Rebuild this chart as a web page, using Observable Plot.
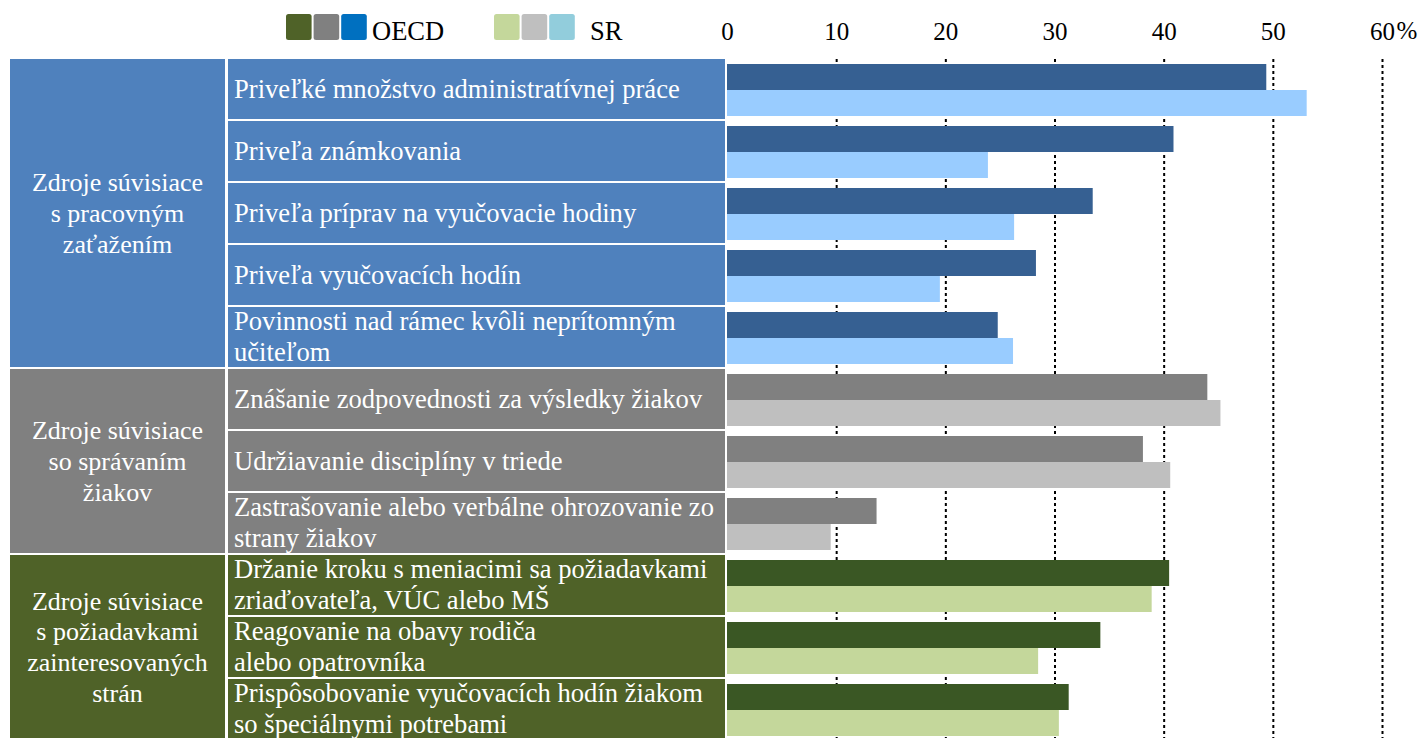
<!DOCTYPE html>
<html>
<head>
<meta charset="utf-8">
<script src="https://cdn.jsdelivr.net/npm/d3@7"></script>
<script src="https://cdn.jsdelivr.net/npm/@observablehq/plot@0.6"></script>
<style>
  html, body { margin: 0; padding: 0; background: #fff; overflow: hidden; }
  #chart { position: relative; width: 1424px; height: 738px; }
</style>
</head>
<body>
<div id="chart"></div>
<script>
// ---------- data ----------
const groups = [
  "Zdroje súvisiace\ns pracovným\nzaťažením",
  "Zdroje súvisiace\nso správaním\nžiakov",
  "Zdroje súvisiace\ns požiadavkami\nzainteresovaných\nstrán"
];
const items = [
  "Priveľké množstvo administratívnej práce",
  "Priveľa známkovania",
  "Priveľa príprav na vyučovacie hodiny",
  "Priveľa vyučovacích hodín",
  "Povinnosti nad rámec kvôli neprítomným\nučiteľom",
  "Znášanie zodpovednosti za výsledky žiakov",
  "Udržiavanie disciplíny v triede",
  "Zastrašovanie alebo verbálne ohrozovanie zo\nstrany žiakov",
  "Držanie kroku s meniacimi sa požiadavkami\nzriaďovateľa, VÚC alebo MŠ",
  "Reagovanie na obavy rodiča\nalebo opatrovníka",
  "Prispôsobovanie vyučovacích hodín žiakom\nso špeciálnymi potrebami"
];
const itemGroup = [0, 0, 0, 0, 0, 1, 1, 1, 2, 2, 2];
const oecd = [49.4, 40.9, 33.5, 28.3, 24.8, 44.0, 38.1, 13.7, 40.5, 34.2, 31.3];
const sr   = [53.1, 23.9, 26.3, 19.5, 26.2, 45.2, 40.6, 9.5, 38.9, 28.5, 30.4];
const xTicks = [0, 10, 20, 30, 40, 50, 60];
const seriesNames = ["OECD", "SR"];

// ---------- colours ----------
const groupColors = ["#4f81bd", "#808080", "#4f6228"];
const barColors = [["#366092", "#99ccff"], ["#808080", "#bfbfbf"], ["#3a5724", "#c4d79b"]];
const legendColors = [["#4f6228", "#808080", "#0070c0"], ["#c4d79b", "#bfbfbf", "#92cddc"]];

// ---------- table for Plot ----------
const rows = items.flatMap((it, i) => [
  {key: i + "|OECD", item: i, series: "OECD", value: oecd[i], group: itemGroup[i]},
  {key: i + "|SR", item: i, series: "SR", value: sr[i], group: itemGroup[i]}
]);
const keys = rows.map(d => d.key);

const FONT = "'Liberation Serif', 'Times New Roman', serif";

const plot = Plot.plot({
  width: 1424,
  height: 741,
  marginLeft: 727,
  marginRight: 42,
  marginTop: 59,
  marginBottom: 0,
  style: {fontFamily: FONT, fontSize: "25px", background: "white", color: "black", overflow: "visible"},
  x: {domain: [0, 60], axis: "top", ticks: xTicks, tickSize: 0, tickPadding: 20, label: null, tickFormat: d => String(d)},
  y: {domain: keys, padding: 0, axis: null},
  marks: [
    Plot.ruleX(xTicks.filter(d => d > 0), {stroke: "black", strokeWidth: 2, strokeDasharray: "3,3"}),
    Plot.barX(rows.filter(d => d.series === "OECD"), {x: "value", y: "key", fill: d => barColors[d.group][0], insetTop: 5}),
    Plot.barX(rows.filter(d => d.series === "SR"), {x: "value", y: "key", fill: d => barColors[d.group][1], insetBottom: 5}),
    Plot.text(["%"], {x: () => xTicks[xTicks.length - 1], frameAnchor: "top", textAnchor: "start", dx: 14, dy: -38, fontSize: 25, fill: "black"})
  ]
});

document.getElementById("chart").appendChild(plot);

// ---------- left table, placed with the plot's y scale ----------
const ys = plot.scale("y");
let yf, bw;
if (ys && typeof ys.apply === "function") {
  yf = k => ys.apply(k);
  bw = ys.bandwidth;
} else {
  const b = d3.scaleBand(ys.domain, ys.range).paddingInner(0).paddingOuter(0);
  yf = k => b(k); bw = b.bandwidth();
}
const rowTop = i => yf(i + "|OECD");
const rowBottom = i => yf(i + "|SR") + bw;

const svg = d3.select(plot);
const g = svg.append("g").attr("font-family", FONT).attr("font-size", 26).attr("text-anchor", "start");
const GAP = 2;
const groupX0 = 10, groupX1 = 225, itemX0 = 228, itemX1 = 725;
const LH = 30.8;

function multiline(sel, text, x, cy, anchor, size) {
  const lines = text.split("\n");
  const t = sel.append("text").attr("fill", "white").attr("text-anchor", anchor).attr("font-size", size);
  const first = cy - (lines.length - 1) * LH / 2 + 8.8;
  lines.forEach((ln, j) => t.append("tspan").attr("x", x).attr("y", first + j * LH).text(ln));
}

groups.forEach((grp, gi) => {
  const idx = itemGroup.map((v, i) => v === gi ? i : -1).filter(i => i >= 0);
  const top = rowTop(idx[0]);
  const bot = rowBottom(idx[idx.length - 1]) - GAP;
  g.append("rect").attr("x", groupX0).attr("y", top).attr("width", groupX1 - groupX0).attr("height", bot - top).attr("fill", groupColors[gi]);
  multiline(g, grp, (groupX0 + groupX1) / 2, (top + bot) / 2, "middle", 26);
});

items.forEach((it, i) => {
  const top = rowTop(i);
  const bot = rowBottom(i) - GAP;
  g.append("rect").attr("x", itemX0).attr("y", top).attr("width", itemX1 - itemX0).attr("height", bot - top).attr("fill", groupColors[itemGroup[i]]);
  multiline(g, it, itemX0 + 6, (top + bot) / 2, "start", 26.6);
});

// ---------- legend ----------
const lg = svg.append("g").attr("font-family", FONT).attr("font-size", 26.5).attr("text-anchor", "start");
const legendPos = [{x: 286, tx: 372}, {x: 494, tx: 590}];
seriesNames.forEach((s, si) => {
  legendColors[si].forEach((c, ci) => {
    lg.append("rect").attr("x", legendPos[si].x + ci * 27.6).attr("y", 14).attr("width", 25.6).attr("height", 26)
      .attr("rx", 2.5).attr("fill", c);
  });
  lg.append("text").attr("x", legendPos[si].tx).attr("y", 40).attr("fill", "black").attr("text-anchor", "start").text(s);
});
</script>
</body>
</html>
